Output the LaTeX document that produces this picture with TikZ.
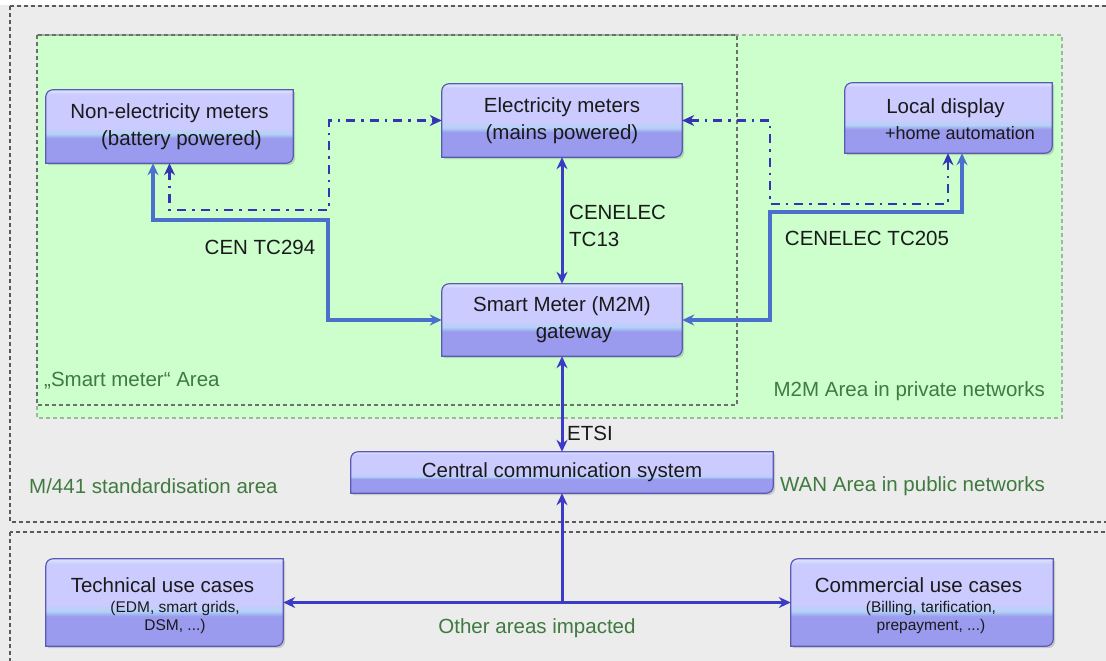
\documentclass[tikz,border=0pt]{standalone}
\usepackage{fontspec}
\setmainfont{Liberation Sans}
\usetikzlibrary{arrows.meta}
\pgfdeclarelayer{areas}
\pgfdeclarelayer{boxes}
\pgfsetlayers{areas,boxes,main}
% palette
\definecolor{pagegray}{HTML}{ECECEC}
\definecolor{areagreen}{HTML}{CCFFCC}
\definecolor{areaedge}{HTML}{9DB89D}
\definecolor{zoneedge}{HTML}{6E6E6E}
\definecolor{outeredge}{HTML}{5A5A5A}
\definecolor{areatext}{HTML}{3F7A3F}
\definecolor{boxtext}{HTML}{1A1A1A}
\definecolor{bxtop}{HTML}{CBCBFF}
\definecolor{bxhi}{HTML}{DDE7FF}
\definecolor{bxband}{HTML}{B2D2F6}
\definecolor{bxbot}{HTML}{9A9AEE}
\definecolor{bxedge}{HTML}{5A5AB4}
\definecolor{linkblue}{HTML}{3B3BC8}
\definecolor{steelblue}{HTML}{4A70CC}
\definecolor{dashblue}{HTML}{3434B4}
% lavender fill with a light band in the lower third
\pgfdeclareverticalshading{meterfill}{100bp}{color(0bp)=(bxbot); color(42bp)=(bxbot); color(45bp)=(bxband); color(49bp)=(bxtop); color(72bp)=(bxtop); color(75bp)=(bxhi); color(100bp)=(bxhi)}
\newcommand\lblfont{\fontsize{20.5}{27}\selectfont}
\newcommand\midfont{\fontsize{18}{21}\selectfont}
\newcommand\subfont{\fontsize{15.5}{18}\selectfont}
\begin{document}
\begin{tikzpicture}[x=1pt,y=-1pt,
  >={Stealth[length=12pt,width=11pt]},
  boxnode/.style={draw=none,inner sep=0pt,align=center,font=\lblfont,text=boxtext},
  txt/.style={inner sep=0pt,font=\lblfont,text=boxtext},
  areatxt/.style={inner sep=0pt,font=\lblfont,text=areatext},
  solidlink/.style={draw=steelblue,line width=3.2pt},
  vlink/.style={draw=linkblue,line width=3pt},
  dashlink/.style={draw=dashblue,line width=2.8pt,dash pattern=on 9pt off 6pt on 2.5pt off 6pt},
  boxedge/.style={draw=bxedge,line width=1.2pt,shading=meterfill},
  outerzone/.style={draw=outeredge,line width=1.1pt,dash pattern=on 4pt off 3pt},
  greenzone/.style={draw=areaedge,line width=1.1pt,dash pattern=on 4pt off 3pt},
  smartzone/.style={draw=zoneedge,line width=1.1pt,dash pattern=on 4pt off 3pt}]
\useasboundingbox (0,0) rectangle (1106,661);

% zones
\begin{pgfonlayer}{areas}
  \fill[pagegray] (0,0) rectangle (1106,661);
  \fill[white] (0,0) rectangle (1106,5);
  \draw[outerzone] (10,6) rectangle (1120,522);
  \draw[outerzone] (10,532) rectangle (1120,680);
  \fill[areagreen] (37,35) rectangle (1062,418);
  \draw[greenzone] (37,35) rectangle (1062,418);
  \draw[smartzone] (37,35) rectangle (737,405);
\end{pgfonlayer}

% boxes
\node[boxnode,minimum width=247pt,minimum height=73pt] (nem) at (169.5,126.5)
  {Non-electricity meters\\\hspace*{24pt}(battery powered)};
\node[boxnode,minimum width=240pt,minimum height=73pt] (em) at (562,120.5)
  {Electricity meters\\(mains powered)};
\node[boxnode,minimum width=207pt,minimum height=70pt] (ld) at (948.5,118) {};
\node[boxnode,minimum width=240pt,minimum height=72pt] (smg) at (562,320)
  {Smart Meter (M2M)\\\hspace*{24pt}gateway};
\node[boxnode,minimum width=422pt,minimum height=41pt] (ccs) at (562,472.5)
  {Central communication system};
\node[boxnode,minimum width=237pt,minimum height=87pt] (tuc) at (164.5,602.5) {};
\node[boxnode,minimum width=262pt,minimum height=87pt] (cuc) at (922,602.5) {};

\node[txt] (ld-t) at (945.5,108) {Local display};
\node[txt,font=\midfont] (ld-s) at (960,133) {+home automation};
\node[txt] (tuc-t) at (162.5,585) {Technical use cases};
\node[txt,font=\subfont,align=center] (tuc-s) at (175,617) {(EDM, smart grids,\\DSM, ...)};
\node[txt] (cuc-t) at (918.5,585) {Commercial use cases};
\node[txt,font=\subfont,align=center] (cuc-s) at (931,617) {(Billing, tarification,\\prepayment, ...)};

% box bodies: rounded top-left and bottom-right corners
\begin{pgfonlayer}{boxes}
  \foreach \n in {nem,em,ld,smg,ccs,tuc,cuc}{
    \fill[black,opacity=0.15] ([xshift=2pt,yshift=-2pt]\n.south west) -- ([xshift=2pt,yshift=-9pt]\n.north west)
      arc[start angle=180,end angle=90,radius=7pt] -- ([xshift=2pt,yshift=-2pt]\n.north east)
      -- ([xshift=2pt,yshift=5pt]\n.south east) arc[start angle=0,end angle=-90,radius=7pt] -- cycle;
    \shadedraw[boxedge] (\n.south west) -- ([yshift=-7pt]\n.north west)
      arc[start angle=180,end angle=90,radius=7pt] -- (\n.north east)
      -- ([yshift=7pt]\n.south east) arc[start angle=0,end angle=-90,radius=7pt] -- cycle;
  }
\end{pgfonlayer}

% connectors
\coordinate (k294) at (328,220);
\draw[solidlink,<->] ([xshift=-16.5pt]nem.south) |- (k294) |- (smg.west);
\coordinate (kdd1) at (329,210);
\draw[dashlink,<->] (nem.south) |- (kdd1) |- (em.west);
\coordinate (k205) at (770,212);
\draw[solidlink,<->] (smg.east) -| (k205) -| ([xshift=13.5pt]ld.south);
\coordinate (kdd2) at (770,204);
\draw[dashlink,<->] (em.east) -| (kdd2) -| ([xshift=-0.5pt]ld.south);
\draw[vlink,<->] (em) -- (smg);
\draw[vlink,<->] (smg) -- (ccs);
\draw[vlink,<->] (tuc) -- (cuc);
\coordinate (kbus) at (ccs.south |- tuc.east);
\draw[vlink,->] (kbus) -- (ccs);

% connector labels
\node[txt] (l294) at (260,247) {CEN TC294};
\node[txt,anchor=west,align=left] (l13) at (569,226) {CENELEC\\TC13};
\node[txt] (l205) at (867,238) {CENELEC TC205};
\node[txt] (letsi) at (590,433) {ETSI};

% zone labels
\node[areatxt,anchor=west] (asm) at (44,381) {„Smart meter“ Area};
\node[areatxt,anchor=east] (am2m) at (1045,391) {M2M Area in private networks};
\node[areatxt,anchor=west] (am441) at (29,486) {M/441 standardisation area};
\node[areatxt,anchor=east] (awan) at (1045,486) {WAN Area in public networks};
\node[areatxt] (aother) at (537,628) {Other areas impacted};
\end{tikzpicture}
\end{document}
